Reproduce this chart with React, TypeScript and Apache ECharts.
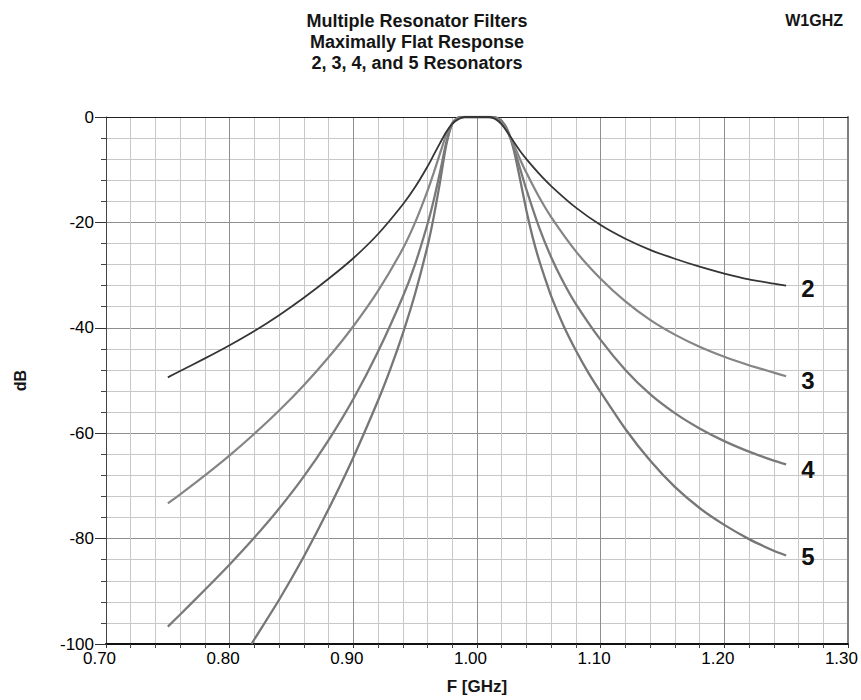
import React, { useEffect, useRef } from "react";
import * as echarts from "echarts";

// ---- Data ----
const TITLE_LINES = ["Multiple Resonator Filters", "Maximally Flat Response", "2, 3, 4, and 5 Resonators"];
const AUTHOR = "W1GHZ";
const X_NAME = "F [GHz]";
const Y_NAME = "dB";
const X_MIN = 0.7;
const X_MAX = 1.3;
const Y_MIN = -100;
const Y_MAX = 0;

const CURVE_LABELS = ["2", "3", "4", "5"];

const FREQ_2 = [0.75, 0.76, 0.78, 0.80, 0.82, 0.84, 0.86, 0.88, 0.90, 0.92, 0.94, 0.95, 0.96, 0.965, 0.97, 0.975, 0.98, 0.985, 0.99, 1.00, 1.01, 1.015, 1.02, 1.025, 1.03, 1.035, 1.04, 1.05, 1.06, 1.08, 1.10, 1.12, 1.14, 1.16, 1.18, 1.20, 1.22, 1.24, 1.25];
const DB_2 = [-49.4, -48.2, -45.8, -43.3, -40.6, -37.6, -34.3, -30.7, -26.8, -22.2, -16.6, -13.3, -9.4, -7.2, -5.0, -2.9, -1.3, -0.4, 0, 0, 0, -0.4, -1.4, -3.0, -4.8, -6.5, -8.0, -10.7, -13.1, -17.2, -20.5, -23.1, -25.2, -26.9, -28.4, -29.7, -30.8, -31.6, -32.0];

const FREQ_3 = [0.75, 0.76, 0.78, 0.80, 0.82, 0.84, 0.86, 0.88, 0.90, 0.92, 0.94, 0.95, 0.96, 0.965, 0.97, 0.975, 0.98, 0.985, 0.99, 1.00, 1.01, 1.015, 1.02, 1.025, 1.03, 1.035, 1.04, 1.05, 1.06, 1.08, 1.10, 1.12, 1.14, 1.16, 1.18, 1.20, 1.22, 1.24, 1.25];
const DB_3 = [-73.3, -71.6, -68.0, -64.2, -60.1, -55.7, -50.9, -45.6, -39.7, -33.0, -25.0, -20.0, -14.0, -10.6, -7.0, -3.5, -1.2, -0.25, 0, 0, 0, -0.25, -1.2, -3.0, -5.4, -8.1, -10.6, -15.1, -19.0, -25.5, -30.7, -35.0, -38.5, -41.3, -43.6, -45.5, -47.1, -48.5, -49.2];

const FREQ_4 = [0.75, 0.76, 0.78, 0.80, 0.82, 0.84, 0.86, 0.88, 0.90, 0.92, 0.94, 0.95, 0.96, 0.965, 0.97, 0.975, 0.98, 0.985, 0.99, 1.00, 1.01, 1.015, 1.02, 1.025, 1.03, 1.035, 1.04, 1.05, 1.06, 1.07, 1.08, 1.10, 1.12, 1.14, 1.16, 1.18, 1.20, 1.22, 1.24, 1.25];
const DB_4 = [-96.7, -94.4, -89.7, -84.9, -79.8, -74.3, -68.2, -61.3, -53.5, -44.5, -34.1, -27.9, -20.3, -15.8, -10.6, -5.0, -1.3, -0.15, 0, 0, 0, -0.15, -1.0, -2.9, -6.0, -9.9, -13.8, -20.8, -26.6, -31.4, -35.5, -42.3, -48.0, -52.6, -56.2, -59.1, -61.5, -63.5, -65.2, -65.9];

const FREQ_5 = [0.8176, 0.82, 0.84, 0.86, 0.88, 0.90, 0.92, 0.93, 0.94, 0.95, 0.96, 0.965, 0.97, 0.975, 0.98, 0.985, 0.99, 1.00, 1.01, 1.015, 1.02, 1.025, 1.03, 1.035, 1.04, 1.045, 1.05, 1.055, 1.06, 1.07, 1.08, 1.09, 1.10, 1.12, 1.14, 1.16, 1.18, 1.20, 1.22, 1.24, 1.25];
const DB_5 = [-100, -99.1, -91.6, -83.4, -74.4, -64.6, -53.8, -47.8, -41.1, -33.5, -24.5, -19.0, -12.5, -5.5, -1.2, -0.05, 0, 0, 0, -0.05, -0.7, -2.6, -6.5, -12.0, -17.8, -22.8, -27.0, -30.6, -34.0, -39.6, -44.3, -48.5, -52.2, -59.2, -65.2, -70.2, -74.2, -77.4, -80.1, -82.3, -83.2];

const CURVES = [
  { freq: FREQ_2, db: DB_2 },
  { freq: FREQ_3, db: DB_3 },
  { freq: FREQ_4, db: DB_4 },
  { freq: FREQ_5, db: DB_5 },
];

// ---- Styles ----
const FONT = '"Liberation Sans", Arial, Helvetica, sans-serif';
const CURVE_COLORS = ["#353535", "#858585", "#7a7a7a", "#767676"];
const CURVE_WIDTHS = [1.8, 2.2, 2.3, 2.3];
const LABEL_OFFSETS = [3, 4, 5, 1];

export default function App() {
  const ref = useRef<HTMLDivElement>(null);

  useEffect(() => {
    if (!ref.current) return;
    const chart = echarts.init(ref.current, undefined, { renderer: "svg" });

    const series = CURVES.map((c, i) => ({
      type: "line",
      name: CURVE_LABELS[i],
      data: c.freq.map((f, k) => [f, c.db[k]]),
      showSymbol: false,
      smooth: 0.2,
      clip: true,
      lineStyle: { color: CURVE_COLORS[i], width: CURVE_WIDTHS[i] },
      itemStyle: { color: CURVE_COLORS[i] },
      z: 5 + (3 - i),
      endLabel: {
        show: true,
        formatter: CURVE_LABELS[i],
        distance: 15,
        offset: [0, LABEL_OFFSETS[i]],
        fontSize: 24,
        fontWeight: "bold",
        color: "#111",
        fontFamily: FONT,
      },
    }));

    const option: any = {
      animation: false,
      backgroundColor: "#ffffff",
      title: [
        {
          text: TITLE_LINES.join("\n"),
          left: 412,
          top: 5,
          textAlign: "center",
          textStyle: { fontSize: 18, fontWeight: "bold", lineHeight: 21, color: "#151515", fontFamily: FONT },
        },
        {
          text: AUTHOR,
          right: 13,
          top: 5,
          textStyle: { fontSize: 16, fontWeight: "bold", lineHeight: 21, color: "#151515", fontFamily: FONT },
        },
      ],
      grid: { left: 106, right: 13, top: 117, bottom: 50, containLabel: false },
      xAxis: [
        {
          type: "value",
          min: X_MIN,
          max: X_MAX,
          interval: 0.1,
          name: X_NAME,
          nameLocation: "middle",
          nameGap: 34,
          nameTextStyle: { fontSize: 17, fontWeight: "bold", color: "#151515", fontFamily: FONT },
          axisLine: { show: true, onZero: false, lineStyle: { color: "#111", width: 2 } },
          axisTick: { show: true, inside: false, length: 4, lineStyle: { color: "#333" } },
          minorTick: { show: true, splitNumber: 5, length: 4, lineStyle: { color: "#444" } },
          axisLabel: {
            show: true,
            showMinLabel: true,
            showMaxLabel: true,
            formatter: (v: number) => v.toFixed(2),
            fontSize: 17,
            color: "#000",
            fontFamily: FONT,
            margin: 6,
            padding: [0, 13, 0, 0],
          },
          splitLine: { show: true, lineStyle: { color: "#8e8e8e", width: 1 } },
          minorSplitLine: { show: true, lineStyle: { color: "#c8c8c8", width: 1 } },
        },
        {
          type: "value",
          position: "top",
          min: X_MIN,
          max: X_MAX,
          interval: 0.1,
          axisLine: { show: true, onZero: false, lineStyle: { color: "#222", width: 1 } },
          axisTick: { show: false },
          axisLabel: { show: false },
          splitLine: { show: false },
        },
      ],
      yAxis: [
        {
          type: "value",
          min: Y_MIN,
          max: Y_MAX,
          interval: 20,
          name: Y_NAME,
          nameLocation: "middle",
          nameGap: 78,
          nameRotate: 90,
          nameTextStyle: { fontSize: 16, fontWeight: "bold", color: "#151515", fontFamily: FONT },
          axisLine: { show: true, onZero: false, lineStyle: { color: "#444", width: 1 } },
          axisTick: { show: true, inside: false, length: 11, lineStyle: { color: "#333" } },
          minorTick: { show: true, splitNumber: 5, length: 5, lineStyle: { color: "#444" } },
          axisLabel: {
            show: true,
            fontSize: 17,
            color: "#000",
            fontFamily: FONT,
            margin: 12,
            padding: [0, 0, 3, 0],
          },
          splitLine: { show: true, lineStyle: { color: "#8e8e8e", width: 1 } },
          minorSplitLine: { show: true, lineStyle: { color: "#c8c8c8", width: 1 } },
        },
        {
          type: "value",
          position: "right",
          min: Y_MIN,
          max: Y_MAX,
          interval: 20,
          axisLine: { show: true, onZero: false, lineStyle: { color: "#808080", width: 2 } },
          axisTick: { show: false },
          axisLabel: { show: false },
          splitLine: { show: false },
        },
      ],
      series,
    };

    chart.setOption(option);
    return () => chart.dispose();
  }, []);

  return (
    <div
      ref={ref}
      style={{ position: "absolute", left: 0, top: 0, width: 861, height: 700, background: "#fff" }}
    />
  );
}
